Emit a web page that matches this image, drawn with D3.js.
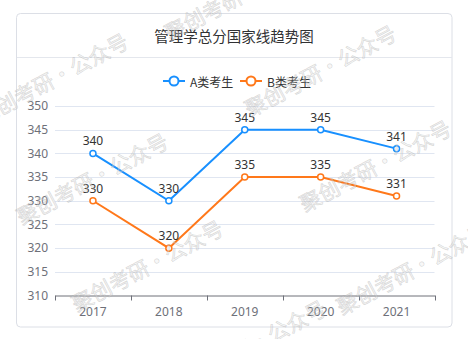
<!DOCTYPE html>
<html>
<head>
<meta charset="utf-8">
<script src="https://cdn.jsdelivr.net/npm/d3@7"></script>
<style>
  html, body { margin: 0; padding: 0; background: #fff; }
  svg { display: block; font-family: "Noto Sans CJK SC", "Noto Sans", sans-serif; }
</style>
</head>
<body>
<svg id="chart" width="468" height="339"></svg>
<script>
// Chart data
const title = "管理学总分国家线趋势图";
const years = ["2017", "2018", "2019", "2020", "2021"];
const seriesNames = ["A类考生", "B类考生"];
const seriesA = [340, 330, 345, 345, 341];
const seriesB = [330, 320, 335, 335, 331];
const yTicks = [310, 315, 320, 325, 330, 335, 340, 345, 350];
const colors = ["#1890ff", "#ff781a"];
const watermarkText = "聚创考研·公众号";

const svg = d3.select("#chart");

// Card panel
svg.append("rect")
  .attr("x", 16.5).attr("y", 13.5)
  .attr("width", 435.5).attr("height", 313.5)
  .attr("rx", 4).attr("ry", 4)
  .attr("fill", "#fff")
  .attr("stroke", "#dcdfe6");
svg.append("line")
  .attr("x1", 17).attr("x2", 452)
  .attr("y1", 57.5).attr("y2", 57.5)
  .attr("stroke", "#e4e7ed");
svg.append("text")
  .attr("x", 234).attr("y", 35)
  .attr("text-anchor", "middle")
  .attr("dominant-baseline", "central")
  .attr("font-size", 14.5)
  .attr("fill", "#303133")
  .text(title);

// Plot area
const plotLeft = 55, plotRight = 434.5, plotTop = 106, plotBottom = 295.5;
const x = d3.scaleBand().domain(years).range([plotLeft, plotRight]);
const y = d3.scaleLinear().domain([310, 350]).range([plotBottom, plotTop]);

// Grid lines
svg.append("g").selectAll("line")
  .data(yTicks.filter(t => t !== 310))
  .join("line")
  .attr("x1", plotLeft).attr("x2", plotRight)
  .attr("y1", d => Math.round(y(d)) + 0.5)
  .attr("y2", d => Math.round(y(d)) + 0.5)
  .attr("stroke", "#e0e6f1");

// Y axis labels
const yAxis = svg.append("g")
  .attr("transform", `translate(${plotLeft},0)`)
  .call(d3.axisLeft(y).tickValues(yTicks).tickSize(0).tickPadding(7));
yAxis.select(".domain").remove();
yAxis.selectAll("text")
  .attr("font-size", 12)
  .attr("fill", "#6e7079")
  .attr("font-family", "\"Noto Sans\", sans-serif");

// X axis
const xAxis = svg.append("g")
  .attr("transform", `translate(0,${plotBottom})`)
  .call(d3.axisBottom(x).tickSize(0).tickPadding(12));
xAxis.select(".domain")
  .attr("stroke", "#6e7079").attr("stroke-width", 1);
xAxis.selectAll("text")
  .attr("font-size", 12)
  .attr("fill", "#6e7079")
  .attr("font-family", "\"Noto Sans\", sans-serif");
// Boundary ticks between categories
const tickPos = years.map(d => x(d)).concat([plotRight]);
svg.append("g").selectAll("line")
  .data(tickPos)
  .join("line")
  .attr("x1", d => Math.round(d) + 0.5).attr("x2", d => Math.round(d) + 0.5)
  .attr("y1", plotBottom).attr("y2", plotBottom + 5)
  .attr("stroke", "#6e7079");

// Lines, points and value labels
const cx = d => x(d) + x.bandwidth() / 2;
[seriesA, seriesB].forEach((vals, i) => {
  const pts = years.map((yr, j) => ({ yr, v: vals[j] }));
  const line = d3.line().x(d => cx(d.yr)).y(d => y(d.v));
  svg.append("path")
    .datum(pts)
    .attr("d", line)
    .attr("fill", "none")
    .attr("stroke", colors[i])
    .attr("stroke-width", 2);
  svg.append("g").selectAll("circle")
    .data(pts)
    .join("circle")
    .attr("cx", d => cx(d.yr))
    .attr("cy", d => y(d.v))
    .attr("r", 3)
    .attr("fill", "#fff")
    .attr("stroke", colors[i])
    .attr("stroke-width", 1.5);
  svg.append("g").selectAll("text")
    .data(pts)
    .join("text")
    .attr("x", d => cx(d.yr))
    .attr("y", d => y(d.v) - 8)
    .attr("text-anchor", "middle")
    .attr("font-size", 12)
    .attr("fill", "#333")
    .attr("font-family", "\"Noto Sans\", sans-serif")
    .text(d => d.v);
});

// Legend
const legendItems = [
  { name: seriesNames[0], color: colors[0], x: 163 },
  { name: seriesNames[1], color: colors[1], x: 240 }
];
const lg = svg.append("g");
legendItems.forEach(it => {
  const g = lg.append("g").attr("transform", `translate(${it.x},81)`);
  g.append("line").attr("x1", 0).attr("x2", 22).attr("y1", 0).attr("y2", 0)
    .attr("stroke", it.color).attr("stroke-width", 2);
  g.append("circle").attr("cx", 11).attr("cy", 0).attr("r", 4.5)
    .attr("fill", "#fff").attr("stroke", it.color).attr("stroke-width", 2);
  g.append("text").attr("x", 27).attr("y", 0)
    .attr("dominant-baseline", "central")
    .attr("font-size", 12).attr("fill", "#333")
    .text(it.name);
});

// Watermarks (light outlined text tiled across the card)
const marks = [
  [52, 78], [320, 70], [92, 178], [375, 165], [147, 265], [412, 268],
  [240, -6], [250, 345]
];
svg.append("g").selectAll("text")
  .data(marks)
  .join("text")
  .attr("transform", d => `translate(${d[0]},${d[1]}) rotate(-28)`)
  .attr("text-anchor", "middle")
  .attr("dominant-baseline", "central")
  .attr("font-size", 21)
  .attr("fill", "rgba(235,235,235,0.35)")
  .attr("stroke", "rgba(150,150,150,0.35)")
  .attr("stroke-width", 0.7)
  .text(watermarkText);
</script>
</body>
</html>
